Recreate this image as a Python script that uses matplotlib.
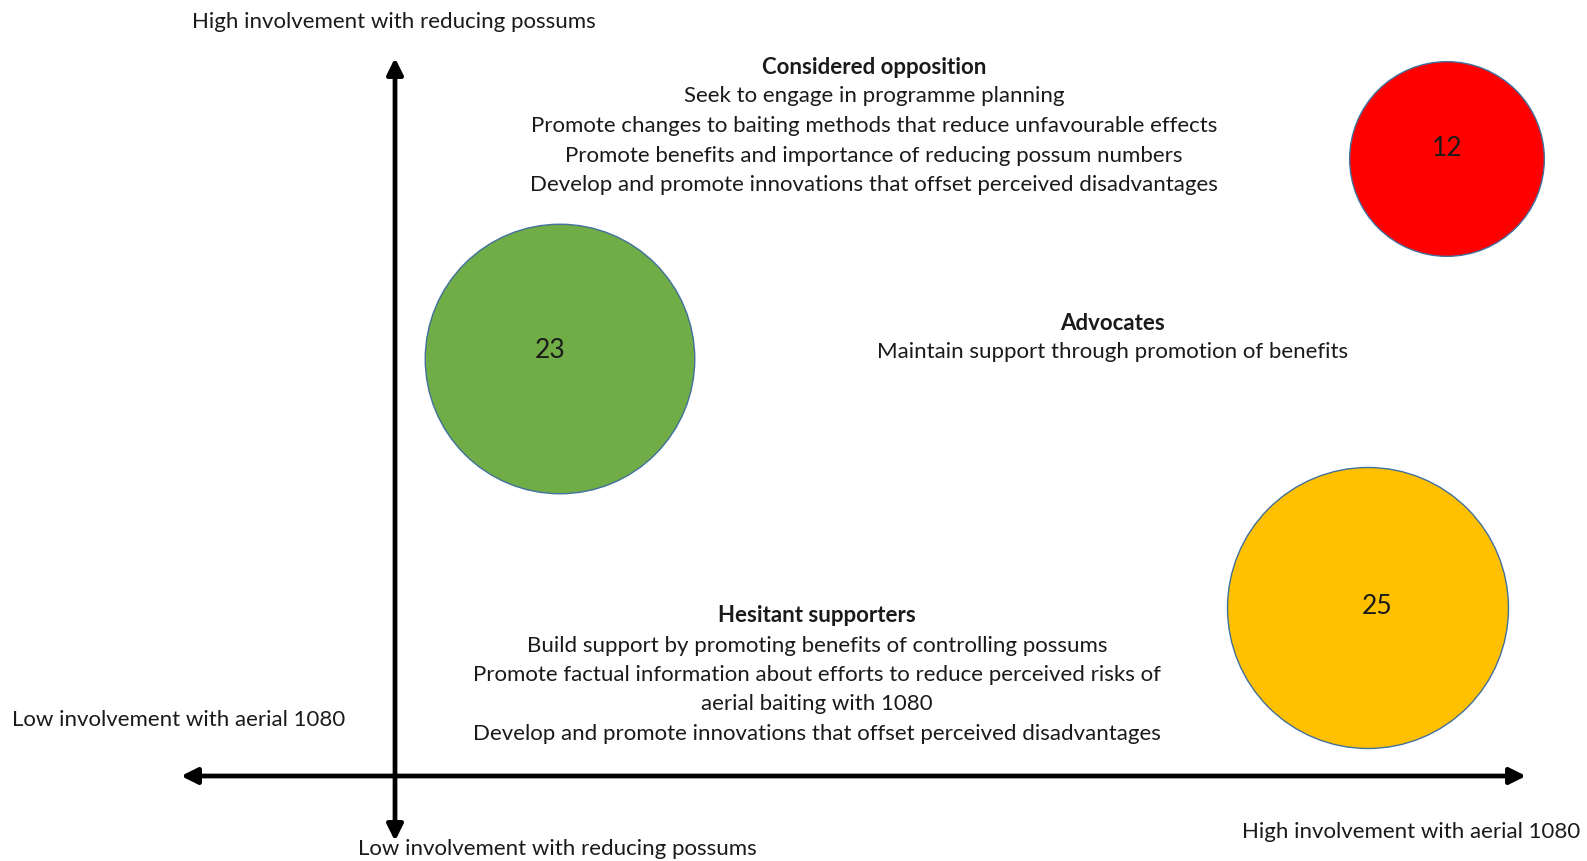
import numpy as np
import matplotlib.pyplot as plt
from matplotlib.patches import Circle

plt.rcParams['font.family'] = ['Lato', 'DejaVu Sans']

# circles: respondent counts, positions on the page (pixels, y down)
counts = [23, 12, 25]
circle_x = [560, 1447, 1368]
circle_y = [359, 159, 608]
circle_colors = ["#70AD47", "#FF0000", "#FFC000"]
# small shift of the number inside each circle
label_dx = [-10, 0, 9]
label_dy = [-8, -11, -2]

# segment text blocks
block_titles = ["Considered opposition", "Advocates", "Hesitant supporters"]
block_lines = [
    ["Seek to engage in programme planning",
     "Promote changes to baiting methods that reduce unfavourable effects",
     "Promote benefits and importance of reducing possum numbers",
     "Develop and promote innovations that offset perceived disadvantages"],
    ["Maintain support through promotion of benefits"],
    ["Build support by promoting benefits of controlling possums",
     "Promote factual information about efforts to reduce perceived risks of",
     "aerial baiting with 1080",
     "Develop and promote innovations that offset perceived disadvantages"],
]
block_x = [874, 1113, 817]
block_y = [67, 323, 616]

axis_labels = {
    "y_high": "High involvement with reducing possums",
    "y_low": "Low involvement with reducing possums",
    "x_low": "Low involvement with aerial 1080",
    "x_high": "High involvement with aerial 1080",
}

fig = plt.figure(figsize=(15.87, 8.61), dpi=100)
ax = fig.add_axes([0, 0, 1, 1])
ax.set_xlim(0, 1587)
ax.set_ylim(861, 0)
ax.set_aspect('equal')
ax.axis('off')

txt = "#1a1a1a"
fs = 16

# axes arrows
arrow = dict(arrowstyle='<|-|>', color='black', lw=3.4, mutation_scale=24,
             shrinkA=0, shrinkB=0)
ax.annotate("", xy=(395, 58), xytext=(395, 841), arrowprops=arrow)
ax.annotate("", xy=(1526, 776), xytext=(181, 776), arrowprops=arrow)

# bubbles, area proportional to count
k = 28.1
for n, cx, cy, col, dx, dy in zip(counts, circle_x, circle_y, circle_colors, label_dx, label_dy):
    r = k * np.sqrt(n)
    ax.add_patch(Circle((cx, cy), r, facecolor=col, edgecolor="#41719C", lw=1, zorder=2))
    ax.text(cx + dx, cy + dy, str(n), ha='center', va='center', fontsize=19, color=txt, zorder=3)

# text blocks
lh = 29.5
for title, lines, bx, by in zip(block_titles, block_lines, block_x, block_y):
    ax.text(bx, by, title, ha='center', va='center', fontsize=fs, fontweight='bold', color=txt)
    for i, line in enumerate(lines):
        ax.text(bx, by + lh * (i + 1), line, ha='center', va='center', fontsize=fs, color=txt)

ax.text(394, 22, axis_labels["y_high"], ha='center', va='center', fontsize=fs, color=txt)
ax.text(557, 849, axis_labels["y_low"], ha='center', va='center', fontsize=fs, color=txt)
ax.text(12, 720, axis_labels["x_low"], ha='left', va='center', fontsize=fs, color=txt)
ax.text(1411, 832, axis_labels["x_high"], ha='center', va='center', fontsize=fs, color=txt)

fig.savefig("out.png", dpi=100)
